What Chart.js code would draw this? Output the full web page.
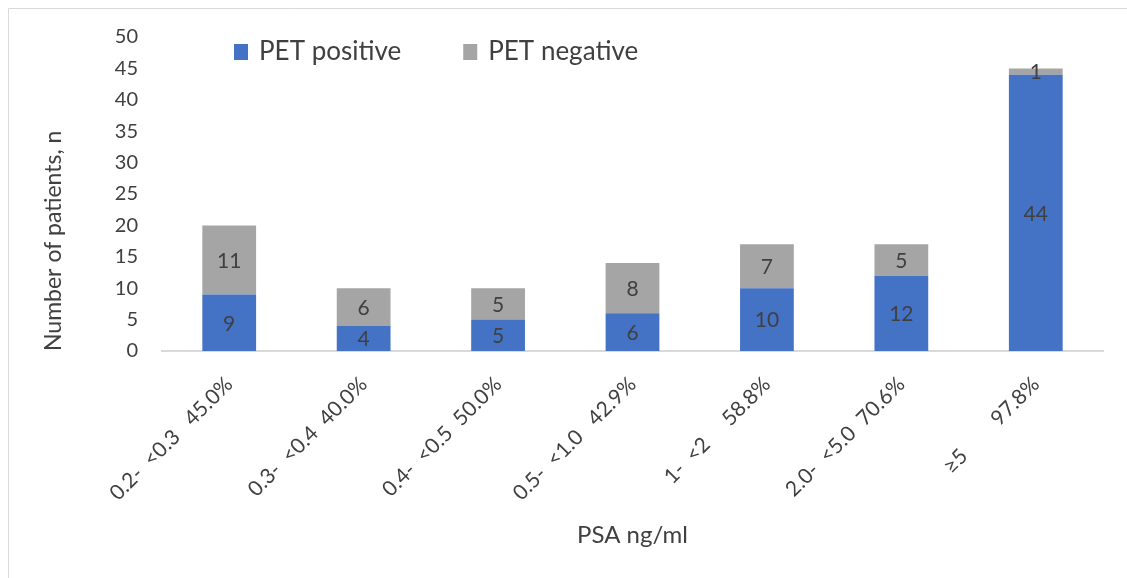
<!DOCTYPE html>
<html>
<head>
<meta charset="utf-8">
<script src="https://cdn.jsdelivr.net/npm/chart.js@4/dist/chart.umd.min.js"></script>
<style>
  html, body { margin: 0; padding: 0; background: #fff; }
  #wrap { position: relative; width: 1127px; height: 578px; }
</style>
</head>
<body>
<div id="wrap"><canvas id="psaChart" width="1127" height="578"></canvas></div>
<script>
const categories = [
  '0.2-  <0.3   45.0%',
  '0.3-  <0.4  40.0%',
  '0.4-  <0.5  50.0%',
  '0.5-  <1.0   42.9%',
  '1-  <2     58.8%',
  '2.0-  <5.0  70.6%',
  '\u22655        97.8%'
];
const petPositive = [9, 4, 5, 6, 10, 12, 44];
const petNegative = [11, 6, 5, 8, 7, 5, 1];
const yTicks = [0, 5, 10, 15, 20, 25, 30, 35, 40, 45, 50];

const textColor = '#404040';
const fontFamily = 'Lato, "Open Sans", sans-serif';

// values written in the middle of each stacked segment
const segmentLabels = {
  id: 'segmentLabels',
  afterDatasetsDraw(chart) {
    const ctx = chart.ctx;
    ctx.save();
    ctx.font = '21px ' + fontFamily;
    ctx.fillStyle = textColor;
    ctx.textAlign = 'center';
    ctx.textBaseline = 'middle';
    chart.data.datasets.forEach((ds, di) => {
      chart.getDatasetMeta(di).data.forEach((bar, i) => {
        const p = bar.getProps(['x', 'y', 'base'], true);
        ctx.fillText(String(ds.data[i]), p.x, (p.y + p.base) / 2 + 1);
      });
    });
    ctx.restore();
  }
};

// legend row drawn inside the plot, plus the outer frame edges
const topLegend = {
  id: 'topLegend',
  beforeDraw(chart) {
    const ctx = chart.ctx;
    ctx.save();
    ctx.strokeStyle = '#D9D9D9';
    ctx.lineWidth = 1;
    ctx.beginPath();
    ctx.moveTo(8.5, 578);
    ctx.lineTo(8.5, 8.5);
    ctx.lineTo(1127, 8.5);
    ctx.stroke();
    ctx.restore();
  },
  afterDraw(chart) {
    const ctx = chart.ctx;
    ctx.save();
    ctx.font = '26px ' + fontFamily;
    ctx.textBaseline = 'middle';
    ctx.textAlign = 'left';
    let x = 234;
    const y = 52;
    chart.data.datasets.forEach(ds => {
      ctx.fillStyle = ds.backgroundColor;
      ctx.fillRect(x, y - 8, 14, 16);
      ctx.fillStyle = textColor;
      ctx.fillText(ds.label, x + 25, y);
      x += 25 + ctx.measureText(ds.label).width + 62;
    });
    ctx.restore();
  }
};

new Chart(document.getElementById('psaChart'), {
  type: 'bar',
  data: {
    labels: categories,
    datasets: [
      { label: 'PET positive', data: petPositive, backgroundColor: '#4472C4' },
      { label: 'PET negative', data: petNegative, backgroundColor: '#A5A5A5' }
    ]
  },
  options: {
    responsive: false,
    animation: false,
    layout: { padding: { left: 8, right: 24, top: 37, bottom: 20 } },
    datasets: { bar: { barPercentage: 0.4, categoryPercentage: 1.0 } },
    plugins: {
      legend: { display: false },
      tooltip: { enabled: false }
    },
    scales: {
      x: {
        stacked: true,
        grid: { display: false, drawTicks: false },
        border: { display: true, color: '#D9D9D9', width: 2 },
        ticks: {
          color: textColor,
          font: { family: fontFamily, size: 21 },
          minRotation: 45,
          maxRotation: 45,
          padding: 21,
          autoSkip: false
        },
        title: {
          display: true,
          text: 'PSA ng/ml',
          color: textColor,
          font: { family: fontFamily, size: 24 },
          padding: { top: 0, bottom: 8 }
        },
        afterFit(scale) { scale.height = 207; }
      },
      y: {
        stacked: true,
        min: 0,
        max: 50,
        grid: { display: false, drawTicks: false },
        border: { display: false },
        afterBuildTicks(scale) { scale.ticks = yTicks.map(v => ({ value: v })); },
        ticks: {
          color: textColor,
          font: { family: fontFamily, size: 20 },
          padding: 24
        },
        title: {
          display: true,
          text: 'Number of patients, n',
          color: textColor,
          align: 'start',
          font: { family: fontFamily, size: 23 },
          padding: { top: 32, bottom: 0 }
        },
        afterFit(scale) { scale.width = 154; }
      }
    }
  },
  plugins: [segmentLabels, topLegend]
});
</script>
</body>
</html>
